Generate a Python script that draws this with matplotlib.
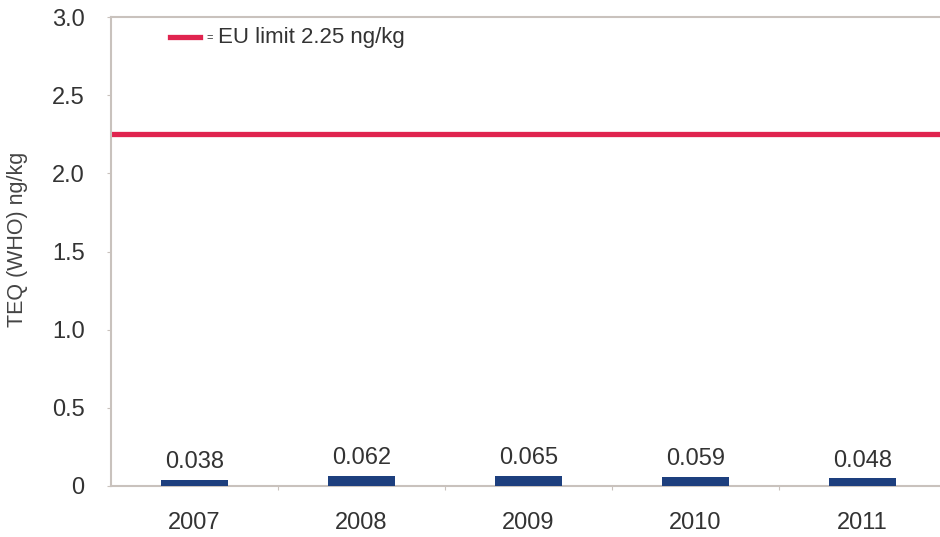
import matplotlib
matplotlib.use("Agg")
import matplotlib.pyplot as plt
from matplotlib.lines import Line2D

# Annual mean TEQ (WHO) values, ng/kg
years = ["2007", "2008", "2009", "2010", "2011"]
teq_values = [0.038, 0.062, 0.065, 0.059, 0.048]
eu_limit = 2.25
y_ticks = [0, 0.5, 1.0, 1.5, 2.0, 2.5, 3.0]
y_tick_labels = ["0", "0.5", "1.0", "1.5", "2.0", "2.5", "3.0"]

plt.rcParams["font.family"] = ["Liberation Sans", "DejaVu Sans"]
text_color = "#333333"
spine_color = "#c9c2bd"
bar_color = "#1d3f7e"
limit_color = "#e0244f"

fig = plt.figure(figsize=(9.4, 5.37), dpi=100)
ax = fig.add_axes([111 / 940, 51 / 537, 1 - 111 / 940, (486 - 17) / 537])

x = list(range(len(years)))
ax.bar(x, teq_values, width=0.4, color=bar_color, zorder=3)
for xi, v in zip(x, teq_values):
    ax.annotate(f"{v:.3f}", (xi, v), xytext=(0, 5), textcoords="offset points",
                ha="center", va="bottom", fontsize=17, color=text_color)

ax.axhline(eu_limit, color=limit_color, lw=3.8, zorder=2)

ax.set_ylim(0, 3.0)
ax.set_xlim(-0.5, (940 - 111) / 167 - 0.5)
ax.set_yticks(y_ticks)
ax.set_yticklabels(y_tick_labels)
ax.set_xticks(x)
ax.set_xticklabels(years)
ax.set_xticks([i + 0.5 for i in range(len(years) - 1)], minor=True)

ax.tick_params(axis="y", direction="out", length=3, width=0.8, color=spine_color,
               labelsize=17, labelcolor=text_color, pad=16)
ax.tick_params(axis="x", which="major", length=0, labelsize=17,
               labelcolor=text_color, pad=19)
ax.tick_params(axis="x", which="minor", direction="out", length=3, width=0.8,
               color=spine_color)

for side in ("left", "bottom", "top"):
    ax.spines[side].set_color(spine_color)
    ax.spines[side].set_linewidth(1.5)
ax.spines["right"].set_visible(False)

ax.set_ylabel("TEQ (WHO) ng/kg", fontsize=15.5, color="#444444")
ax.yaxis.set_label_coords(-0.1, 0.525)

# Legend entry for the limit line
fig.add_artist(Line2D([170 / 940, 200 / 940], [1 - 37 / 537, 1 - 37 / 537],
                      color=limit_color, lw=3.8))
fig.text(206 / 940, 1 - 38 / 537, "=", fontsize=8, color=text_color,
         ha="left", va="center")
fig.text(218 / 940, 1 - 37 / 537, "EU limit 2.25 ng/kg", fontsize=16,
         color=text_color, ha="left", va="center")

fig.savefig("out.png", dpi=100)
